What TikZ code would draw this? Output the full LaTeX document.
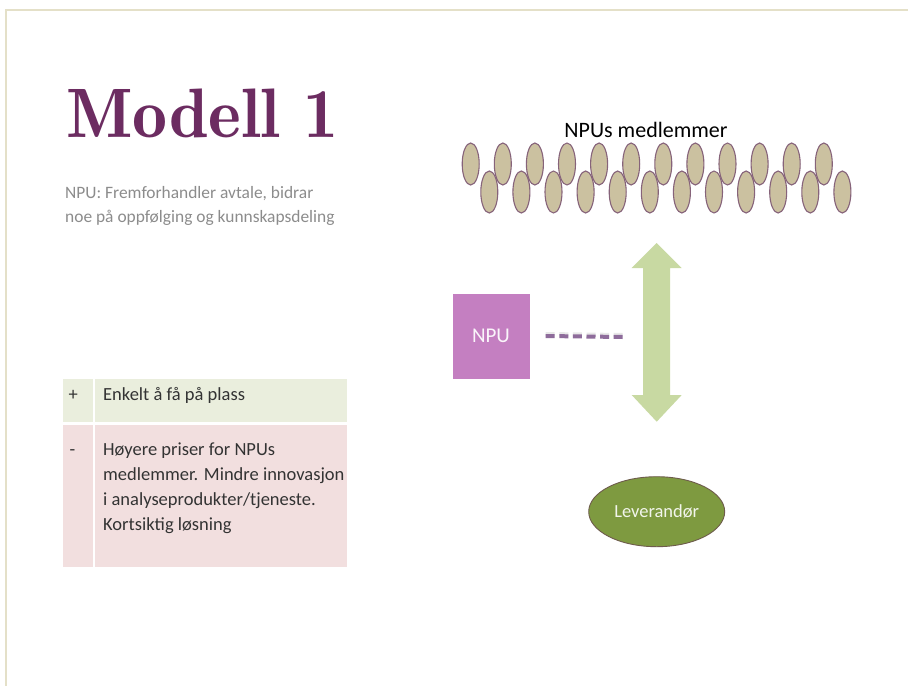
\documentclass[tikz,border=0pt]{standalone}
\usepackage{fontspec}
\newfontfamily\carl{Carlito}
\newfontfamily\titlefont{lmromandemi10-regular.otf}
\usetikzlibrary{shapes.geometric}
\definecolor{memberfill}{HTML}{CBC1A0}
\definecolor{memberline}{HTML}{86637A}
\definecolor{npufill}{HTML}{C47FC1}
\definecolor{arrowfill}{HTML}{C8D9A2}
\definecolor{levfill}{HTML}{7E9A40}
\definecolor{levline}{HTML}{6E5C4C}
\definecolor{titlecol}{HTML}{6C2C61}
\definecolor{subgray}{HTML}{8C8C8C}
\definecolor{rowplus}{HTML}{EAEEDD}
\definecolor{rowminus}{HTML}{F2DFDF}
\definecolor{bordercol}{HTML}{E4E0C8}
\definecolor{dashcol}{HTML}{8E6C9B}
\definecolor{tabtext}{HTML}{333333}
\tikzset{
  member/.style={ellipse, draw=memberline, line width=1.1pt, fill=memberfill,
    minimum width=17pt, minimum height=42pt, inner sep=0pt},
  tabtxt/.style={anchor=base west, inner sep=0pt, text=tabtext, font=\carl\fontsize{18.5}{25}\selectfont},
}
\begin{document}
\begin{tikzpicture}[x=1pt,y=-1pt]
\useasboundingbox (0,0) rectangle (908,686);
\fill[white] (0,0) rectangle (908,686);
\draw[bordercol, line width=1.5pt] (6,686) -- (6,10) -- (908,10);

% title and subtitle
\node[anchor=base west, inner sep=0pt, text=titlecol, font=\titlefont\fontsize{70}{80}\selectfont] (title) at (66,137) {Modell 1};
\node[anchor=base west, inner sep=0pt, text=subgray, align=left, font=\carl\fontsize{17.4}{24}\selectfont] (sub) at (65,222)
  {NPU: Fremforhandler avtale, bidrar\\noe på oppfølging og kunnskapsdeling};

% table
\fill[rowplus] (63,379) rectangle (347,422);
\fill[rowminus] (63,425) rectangle (347,567);
\fill[white] (92.5,379) rectangle (94.5,567);
\node[tabtxt] (plus) at (68.5,400) {+};
\node[tabtxt] (pluscell) at (103,400) {Enkelt å få på plass};
\node[tabtxt] (minus) at (69.5,455) {-};
\node[tabtxt, align=left] (minuscell) at (103,530)
  {Høyere priser for NPUs\\medlemmer. Mindre innovasjon\\i analyseprodukter/tjeneste.\\Kortsiktig løsning};

% members
\node[anchor=base, inner sep=0pt, font=\carl\fontsize{22}{26}\selectfont] (memtitle) at (646,137) {NPUs medlemmer};
\foreach \i in {0,...,11} {
  \node[member] (t\i) at ({470.7+32.1*\i},164) {};
  \node[member] (b\i) at ({489.3+32.1*\i},192) {};
}

% NPU box
\node[fill=npufill, minimum width=77pt, minimum height=85pt, inner sep=0pt,
  text=white!92!npufill, font=\carl\fontsize{21}{25}\selectfont] (npu) at (491,336) {NPU};

% supplier
\node[ellipse, draw=levline, line width=0.9pt, fill=levfill, minimum width=136pt, minimum height=70pt,
  inner sep=0pt, text=white!90!levfill, font=\carl\fontsize{18.5}{22}\selectfont] (lev) at (656.7,511.7) {Leverandør};

% double arrow between members and supplier
\coordinate (atop) at (656.7,243);
\coordinate (abot) at (656.7,421.7);
\fill[arrowfill] (atop) -- ++(25,25) -- ++(-11.5,0) -- (670.2,395) -- (681.7,395) -- (abot)
  -- (631.7,395) -- (643.2,395) -- (643.2,268) -- (631.7,268) -- cycle;

% dashed connector from NPU
\coordinate (dashend) at (623,337);
\draw[black!25, line width=4pt, dash pattern=on 9pt off 4.6pt, opacity=0.35] ([xshift=16pt,yshift=2pt]npu.east) -- ([yshift=2pt]dashend);
\draw[dashcol, line width=4pt, dash pattern=on 9pt off 4.6pt] ([xshift=16pt]npu.east) -- (dashend);
\end{tikzpicture}
\end{document}
